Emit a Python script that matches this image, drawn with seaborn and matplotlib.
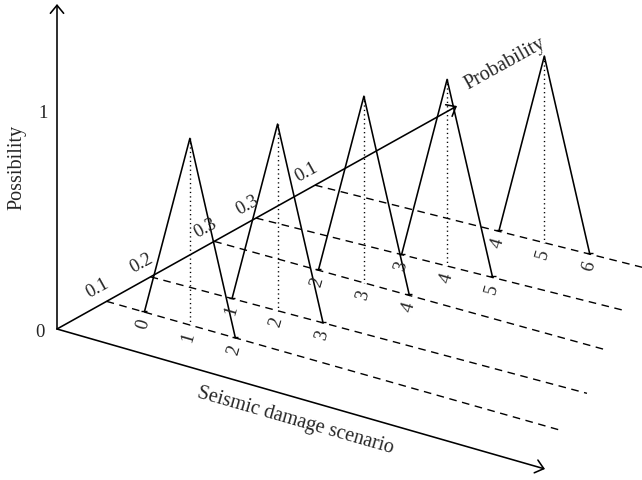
import numpy as np
import pandas as pd
import matplotlib
matplotlib.use("Agg")
import matplotlib.pyplot as plt
import seaborn as sns

# Scenario data: probability of each row and its triangular possibility distribution
probabilities = [0.1, 0.2, 0.3, 0.3, 0.1]
scenario_low = [0, 1, 2, 3, 4]
scenario_mode = [1, 2, 3, 4, 5]
scenario_high = [2, 3, 4, 5, 6]
peak_possibility = [0.86, 0.86, 0.86, 0.86, 0.86]

# Layout of the pseudo-3D sketch (pixel space)
ORIGIN = np.array([57.0, 330.0])
PROB_END = np.array([457.0, 107.0])
DAMAGE_END = np.array([545.0, 470.0])
POSS_TOP = np.array([57.0, 5.0])
H_UNIT = 217.0
DAMAGE_STEP = 45.5
row_t = [0.124, 0.234, 0.393, 0.4975, 0.645]
row_slope = [0.284, 0.267, 0.277, 0.251, 0.251]
row_shift = [0.83, 0.79, 0.29, 0.2, 0.04]
row_end = [9.1, 8.8, 8.3, 7.9, 7.9]


def row_start(i):
    return ORIGIN + row_t[i] * (PROB_END - ORIGIN)


def row_point(i, d, h=0.0):
    sx, sy = row_start(i)
    x = sx + (d + row_shift[i]) * DAMAGE_STEP
    y = sy + (x - sx) * row_slope[i] - h * H_UNIT
    return x, y


sns.set_theme(style="white")
plt.rcParams["font.family"] = ["Liberation Serif", "DejaVu Serif"]

fig = plt.figure(figsize=(6.42, 4.81), dpi=100)
ax = fig.add_axes([0, 0, 1, 1])
ax.set_xlim(0, 642)
ax.set_ylim(481, 0)
ax.axis("off")

# build line tables
tri_rows, dash_rows, dot_rows, base_rows = [], [], [], []
for i in range(len(probabilities)):
    for d, h in [(scenario_low[i], 0), (scenario_mode[i], peak_possibility[i]),
                 (scenario_high[i], 0)]:
        x, y = row_point(i, d, h)
        tri_rows.append({"row": i, "x": x, "y": y})
    for d in [-row_shift[i], row_end[i]]:
        x, y = row_point(i, d)
        dash_rows.append({"row": i, "x": x, "y": y})
    for h in [peak_possibility[i], 0]:
        x, y = row_point(i, scenario_mode[i], h)
        dot_rows.append({"row": i, "x": x, "y": y})
    for d in [scenario_low[i], scenario_high[i]]:
        x, y = row_point(i, d)
        base_rows.append({"x": x, "y": y - 1})

tri_df = pd.DataFrame(tri_rows)
dash_df = pd.DataFrame(dash_rows)
dot_df = pd.DataFrame(dot_rows)
base_df = pd.DataFrame(base_rows)

sns.lineplot(data=dash_df, x="x", y="y", units="row", estimator=None, sort=False,
             color="black", lw=1.0, linestyle=(0, (5.5, 4.0)), ax=ax, legend=False)
sns.lineplot(data=dot_df, x="x", y="y", units="row", estimator=None, sort=False,
             color="black", lw=1.0, linestyle=(0, (0.9, 2.3)), ax=ax, legend=False)
sns.lineplot(data=tri_df, x="x", y="y", units="row", estimator=None, sort=False,
             color="black", lw=1.15, ax=ax, legend=False)
ax.plot(base_df["x"], base_df["y"], ls="none", marker="_", ms=5, mew=1.0, color="black")

# axes arrows
arrow = dict(arrowstyle="->,head_length=0.4,head_width=0.33", lw=1.15, color="black",
             shrinkA=0, shrinkB=0, mutation_scale=14.5)
for end in [POSS_TOP, PROB_END, DAMAGE_END]:
    ax.annotate("", xy=end, xytext=ORIGIN, arrowprops=arrow)

# labels
ax.text(17, 167, "Possibility", rotation=90, fontsize=14.5, ha="center", va="center")
ax.text(43, ORIGIN[1] - H_UNIT, "1", fontsize=13.5, ha="center", va="center")
ax.text(40, 333, "0", fontsize=13.5, ha="center", va="center")
ax.text(295, 421, "Seismic damage scenario", rotation=-16, rotation_mode="anchor",
        fontsize=14.5, ha="center", va="center")
ax.text(505, 64, "Probability", rotation=29, rotation_mode="anchor",
        fontsize=14.5, ha="center", va="center")

for i, p in enumerate(probabilities):
    sx, sy = row_start(i)
    ax.text(sx - 9, sy - 14, f"{p:.1f}", rotation=29, rotation_mode="anchor",
            fontsize=13.5, ha="center", va="center")
    for d in [scenario_low[i], scenario_mode[i], scenario_high[i]]:
        x, y = row_point(i, d)
        ax.text(x - 1, y + 11, str(d), rotation=74, rotation_mode="anchor",
                fontsize=13.5, ha="center", va="center")

fig.savefig("out.png", dpi=100)
